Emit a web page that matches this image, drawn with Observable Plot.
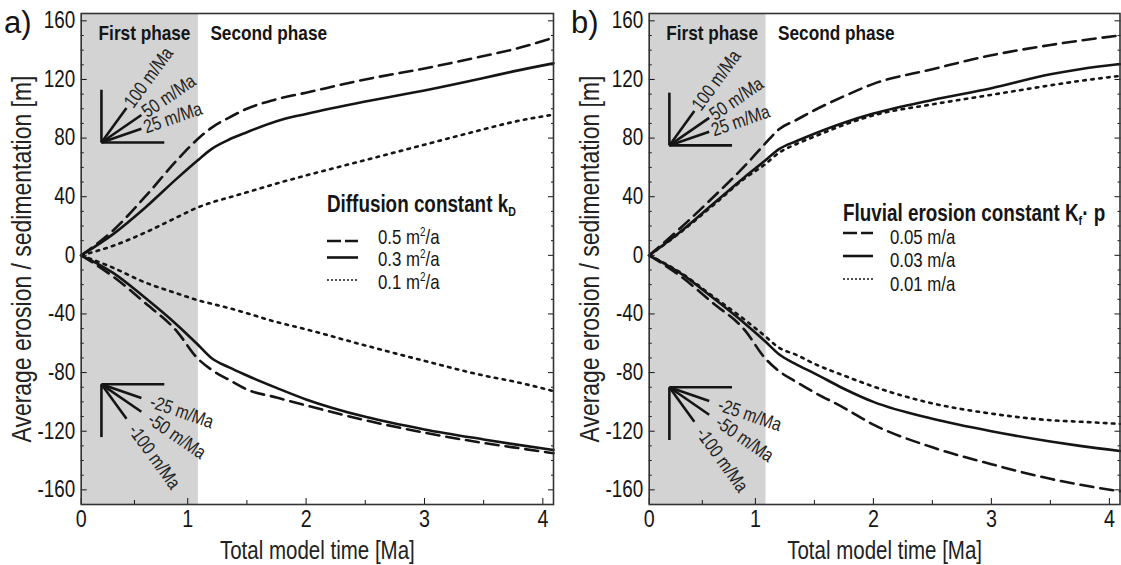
<!DOCTYPE html>
<html><head><meta charset="utf-8">
<script src="https://cdn.jsdelivr.net/npm/d3@7"></script>
<script src="https://cdn.jsdelivr.net/npm/@observablehq/plot@0.6"></script>
<style>
html,body{margin:0;padding:0;background:#fff;}
#wrap{position:relative;width:1121px;height:565px;overflow:hidden;font-family:"Liberation Sans",Arial,sans-serif;color:#1a1a1a}
#wrap .panel{position:absolute;top:0}
#overlay{position:absolute;left:0;top:0;pointer-events:none}
</style></head><body><div id="wrap"></div>
<script>
// ---- data ----
const time = [0, 0.3, 0.6, 0.9, 1.08, 1.2, 1.35, 1.5, 1.75, 2.0, 2.5, 3.0, 3.5, 3.75, 4.09];

// panel a) diffusion constant kD : sedimentation (positive) and erosion (negative)
const aSed05 = [0, 17, 40, 65, 79, 87, 94, 100, 106.5, 111, 120, 127.5, 136, 140.5, 148.5];
const aSed03 = [0, 14.5, 32.5, 52.5, 64.5, 72.5, 79, 84, 91.5, 96.5, 105, 112.5, 121, 125.5, 131];
const aSed01 = [0, 6.5, 15.5, 26, 32.5, 36, 39.5, 43, 49, 54.5, 65, 75.5, 86, 91, 96];
const aEro05 = [0, -14.5, -32.5, -52, -70, -78, -85, -91.5, -97, -102.4, -112.5, -121, -128, -131, -135];
const aEro03 = [0, -12, -29, -47.5, -60.5, -70, -76.5, -82, -90.4, -98.3, -110.2, -118.8, -125.6, -128.8, -132.8];
const aEro01 = [0, -8.5, -18.5, -26, -30.5, -33, -36, -39.5, -45.5, -50.5, -61.5, -72, -82, -86, -92.6];

// panel b) fluvial erosion constant Kf·p
const bSed005 = [0, 19, 39.5, 61, 76, 86, 92.5, 99, 108.5, 117, 127, 136.5, 143.5, 146.5, 150];
const bSed003 = [0, 16.5, 35, 53.5, 64.5, 72.5, 78, 83, 90.5, 96.7, 106, 114, 123.5, 127, 130.5];
const bSed001 = [0, 16, 34, 52.5, 62, 70, 76, 81, 89, 95.5, 103, 109.5, 116, 119, 122.4];
const bEro005 = [0, -14.5, -32.5, -51, -70, -79, -86.5, -93.5, -104, -115.5, -131, -142.5, -152.5, -156.5, -161];
const bEro003 = [0, -12.5, -29, -46.5, -58.5, -67.5, -74.5, -80.5, -91, -100, -111.5, -120, -127, -130, -133.5];
const bEro001 = [0, -12, -28, -44, -55, -63, -68, -74, -82, -89.5, -101, -108, -112.5, -113.5, -115];

const kdLabels = ["0.5", "0.3", "0.1"];
const kfLabels = ["0.05 m/a", "0.03 m/a", "0.01 m/a"];
const lineStyles = ["dashed", "solid", "dotted"];

const yTicks = [-160, -120, -80, -40, 0, 40, 80, 120, 160];
const yMinorTicks = [-150,-140,-130,-110,-100,-90,-70,-60,-50,-30,-20,-10,10,20,30,50,60,70,90,100,110,130,140,150];
const xTicks = [0, 1, 2, 3, 4];
const xMinorTicks = [0.5, 1.5, 2.5, 3.5];

const phaseBoundary = 1.09;   // Ma, end of first phase
const rates = [100, 50, 25];  // m/Ma reference slopes
const rateReach = [0.235, 0.375, 0.375]; // Ma length of each slope segment
const iconArm = 36;   // m
const iconBase = 0.59; // Ma

// ---- layout ----
const H = 565, MT = 13, MB = 61;
const yDomain = [-170, 165];
// the time axis of the original is compressed between 0 and 1 Ma
const FIRST = 0.9;
const timeAxis = t => t < 1 ? 0.1 + FIRST * t : t;
const xDomainAxis = [0.1, 4.09];
const FONT = '"Liberation Sans",Arial,sans-serif';
const NARROW = 0.82;
const dashes = {dashed: "13,7", solid: null, dotted: "2.6,5.4"};
const INK = "#151515";

// condense every text horizontally around its own anchor (Arial Narrow look)
function narrowText(svg) {
  svg.querySelectorAll("text").forEach(t => {
    const xa = t.getAttribute("x");
    const x0 = xa && !/em$/.test(xa) ? parseFloat(xa) || 0 : 0;
    const tr = t.getAttribute("transform") || "";
    t.setAttribute("transform", `${tr} translate(${x0},0) scale(${NARROW},1) translate(${-x0},0)`);
  });
}

function panel({width, marginLeft, marginRight, sets, iconTop, iconBottom}) {
  const kx = FIRST * (width - marginLeft - marginRight) / (xDomainAxis[1] - xDomainAxis[0]);
  const ky = (H - MT - MB) / (yDomain[1] - yDomain[0]);

  const lineMarks = sets.map(s => Plot.line(time.map((t, i) => ({t, v: s.values[i]})), {
    x: "t", y: "v", stroke: INK, strokeWidth: 2.6, strokeDasharray: dashes[s.style],
    curve: "monotone-x"
  }));

  function icon(o, sign) {
    const segs = [
      {x1: o.x, y1: o.y, x2: o.x, y2: o.y + sign * iconArm},
      {x1: o.x, y1: o.y, x2: o.x + iconBase, y2: o.y}
    ];
    const labels = [];
    rates.forEach((r, i) => {
      const dx = rateReach[i];
      segs.push({x1: o.x, y1: o.y, x2: o.x + dx, y2: o.y + sign * r * dx});
      const theta = Math.atan(r * ky / kx);
      const gap = sign > 0 ? 3 : 10;
      const ddx = dx + gap * Math.cos(theta) / kx;
      labels.push({x: o.x + ddx, y: o.y + sign * r * ddx,
        text: (sign > 0 ? "" : "-") + r + " m/Ma",
        angle: -sign * theta * 180 / Math.PI});
    });
    return [
      Plot.link(segs, {x1: "x1", y1: "y1", x2: "x2", y2: "y2", stroke: INK, strokeWidth: 2.6}),
      Plot.text(labels, {x: "x", y: "y", text: "text", rotate: "angle", textAnchor: "start",
        lineAnchor: "middle", fontSize: 19, fill: "#222"})
    ];
  }

  const svg = Plot.plot({
    width, height: H, marginLeft, marginRight, marginTop: MT, marginBottom: MB,
    style: {fontFamily: FONT, fontSize: "23px", color: INK, background: "transparent", overflow: "visible"},
    x: {domain: xDomainAxis, transform: timeAxis, axis: null},
    y: {domain: yDomain, axis: null},
    marks: [
      Plot.rect([{a: 0, b: phaseBoundary}], {x1: "a", x2: "b", fill: "#d3d3d3"}),
      Plot.text([phaseBoundary], {x: d => d, frameAnchor: "top", dy: 20, dx: -8, textAnchor: "end", lineAnchor: "middle",
        text: () => "First phase", fontWeight: "bold", fontSize: 21}),
      Plot.text([phaseBoundary], {x: d => d, frameAnchor: "top", dy: 20, dx: 12, textAnchor: "start", lineAnchor: "middle",
        text: () => "Second phase", fontWeight: "bold", fontSize: 21}),
      ...icon(iconTop, 1),
      ...icon(iconBottom, -1),
      ...lineMarks,
      Plot.axisY(yTicks, {anchor: "left", tickSize: -6, tickPadding: 12, tickFormat: d => String(d), fontSize: 23, label: null, stroke: INK}),
      Plot.axisY(yMinorTicks, {anchor: "left", tickSize: -3, fill: "none", label: null, stroke: INK}),
      Plot.axisY(yTicks, {anchor: "right", tickSize: -6, fill: "none", label: null, stroke: INK}),
      Plot.axisY(yMinorTicks, {anchor: "right", tickSize: -3, fill: "none", label: null, stroke: INK}),
      Plot.axisX(xTicks, {anchor: "bottom", tickSize: -6, tickPadding: 11, tickFormat: d => String(Math.round(d)), fontSize: 24, label: null, stroke: INK}),
      Plot.axisX(xMinorTicks, {anchor: "bottom", tickSize: -4, fill: "none", label: null, stroke: INK}),
      Plot.frame({stroke: "#333", strokeWidth: 1.6}),
      Plot.text(["Average erosion / sedimentation [m]"], {frameAnchor: "left", dx: -59, rotate: -90, textAnchor: "middle", lineAnchor: "middle", fontSize: 28, text: d => d, fill: "#222"}),
      Plot.text(["Total model time [Ma]"], {frameAnchor: "bottom", dy: 46.5, textAnchor: "middle", lineAnchor: "middle", fontSize: 25, text: d => d, fill: "#222"})
    ]
  });
  narrowText(svg);
  return svg;
}

const wrap = document.getElementById("wrap");

const left = panel({
  width: 560, marginLeft: 80.7, marginRight: 7,
  sets: [
    {values: aSed05, style: "dashed"}, {values: aSed03, style: "solid"}, {values: aSed01, style: "dotted"},
    {values: aEro05, style: "dashed"}, {values: aEro03, style: "solid"}, {values: aEro01, style: "dotted"}
  ],
  iconTop: {x: 0.19, y: 77}, iconBottom: {x: 0.19, y: -88}
});
left.classList.add("panel"); left.style.left = "0px";
wrap.appendChild(left);

const right = panel({
  width: 561, marginLeft: 88.7, marginRight: 1.5,
  sets: [
    {values: bSed005, style: "dashed"}, {values: bSed003, style: "solid"}, {values: bSed001, style: "dotted"},
    {values: bEro005, style: "dashed"}, {values: bEro003, style: "solid"}, {values: bEro001, style: "dotted"}
  ],
  iconTop: {x: 0.19, y: 75}, iconBottom: {x: 0.19, y: -90}
});
right.classList.add("panel"); right.style.left = "560px";
wrap.appendChild(right);

// ---- legends and panel letters ----
const legendDash = {dashed: "14,4", solid: "none", dotted: "2,2"};
const legendWidth = {dashed: 2.4, solid: 2.6, dotted: 1.6};
const nt = (x, y, size, content, extra = "") =>
  `<text transform="translate(${x},${y}) scale(${NARROW},1)" font-size="${size}" ${extra}>${content}</text>`;
function legendRows(x0, x1, tx, lineYs, textYs, labelFn) {
  return lineStyles.map((s, i) => `
    <line x1="${x0}" x2="${x1}" y1="${lineYs[i]}" y2="${lineYs[i]}" stroke="${INK}" stroke-width="${legendWidth[s]}" stroke-dasharray="${legendDash[s]}"/>
    ${nt(tx, textYs[i], 20.5, labelFn(i))}`).join("");
}
const ov = `
<svg id="overlay" width="1121" height="565" font-family='${FONT}' fill="${INK}">
  <text x="4" y="33" font-size="31">a)</text>
  <text x="571" y="33" font-size="31">b)</text>
  ${nt(327, 212, 23, `Diffusion constant k<tspan font-size="13" dy="4">D</tspan>`, 'font-weight="bold"')}
  ${legendRows(327, 358, 378, [241, 257.5, 280], [244, 266, 289],
     i => `${kdLabels[i]} m<tspan font-size="12" dy="-8">2</tspan><tspan dy="8">/a</tspan>`)}
  ${nt(843, 221, 23, `Fluvial erosion constant K<tspan font-size="13" dy="4">f</tspan><tspan dy="-4">· p</tspan>`, 'font-weight="bold"')}
  ${legendRows(843, 873, 890, [233, 256, 279], [243.5, 267, 290.5], i => kfLabels[i])}
</svg>`;
wrap.insertAdjacentHTML("beforeend", ov);
</script></body></html>
